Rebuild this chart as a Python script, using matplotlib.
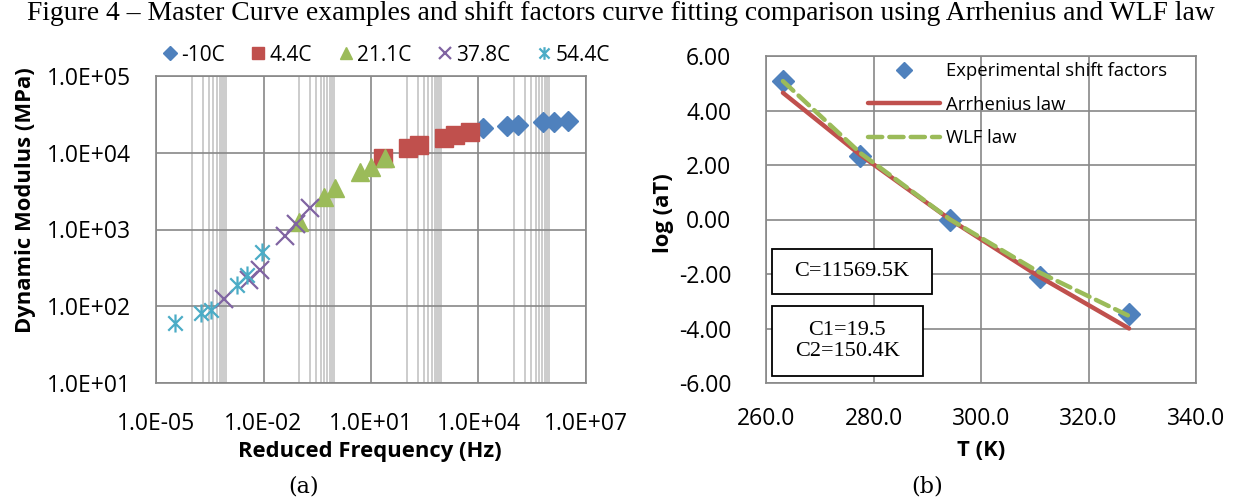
import matplotlib
matplotlib.use("Agg")
import matplotlib.pyplot as plt
from matplotlib.path import Path
from matplotlib.patches import Rectangle
from matplotlib.ticker import FixedLocator, FuncFormatter

# master curve data: reduced frequency (Hz) and dynamic modulus (MPa) per temperature
temps = ["-10C", "4.4C", "21.1C", "37.8C", "54.4C"]
freq_m10 = [1.36e4, 6.2e4, 1.23e5, 6.5e5, 1.29e6, 3.24e6]
mod_m10 = [20800, 22300, 23000, 25400, 25400, 26200]
freq_4 = [21.6, 107, 214, 1070, 2150, 5700]
mod_4 = [8470, 11400, 12600, 15400, 17000, 18800]
freq_21 = [0.1, 0.5, 1.0, 5.0, 10.0, 25.0]
mod_21 = [1250, 2670, 3440, 5660, 6580, 8470]
freq_38 = [8.0e-4, 4.0e-3, 8.0e-3, 4.0e-2, 8.0e-2, 0.2]
mod_38 = [123, 220, 297, 822, 1180, 1890]
freq_54 = [3.5e-5, 1.8e-4, 3.5e-4, 1.8e-3, 3.5e-3, 8.9e-3]
mod_54 = [60, 81, 89, 189, 255, 514]

# shift factors vs temperature (K)
T_k = [263.15, 277.55, 294.25, 310.95, 327.55]
logaT_exp = [5.10, 2.33, 0.0, -2.10, -3.45]
logaT_arr = [4.65, 2.37, 0.0, -2.11, -4.00]
logaT_wlf = [5.08, 2.44, 0.0, -1.95, -3.54]

xticks_a = [1e-5, 1e-2, 1e1, 1e4, 1e7]
yticks_a = [1e1, 1e2, 1e3, 1e4, 1e5]
xticks_b = [260, 280, 300, 320, 340]
yticks_b = [6, 4, 2, 0, -2, -4, -6]

SANS = "Open Sans"
SERIF = "Liberation Serif"
plt.rcParams["font.family"] = SANS

blue = "#4F81BD"
red = "#C0504D"
green = "#9BBB59"
purple = "#8064A2"
cyan = "#4BACC6"
major_c = "#888888"
minor_c = "#C4C4C4"
TICK = 16.5
LAB = 15.8

# excel style star: an X with a vertical bar through it
star = Path([(-1, -1), (1, 1), (-1, 1), (1, -1), (0, -1.25), (0, 1.25)],
            [Path.MOVETO, Path.LINETO, Path.MOVETO, Path.LINETO, Path.MOVETO, Path.LINETO])

fig = plt.figure(figsize=(12.42, 4.99), dpi=100)
W, H = 1242, 499


def px_axes(x0, y0, x1, y1):
    return fig.add_axes([x0 / W, 1 - y1 / H, (x1 - x0) / W, (y1 - y0) / H])


# ---- (a) master curve ----
ax = px_axes(156, 76, 586, 383)
ax.set_xscale("log")
ax.set_yscale("log")
ax.set_xlim(1e-5, 1e7)
ax.set_ylim(1e1, 1e5)

minor = []
for k in [-5, -2, 1, 4]:
    for n in range(1, 10):
        minor.append(10.0 ** k * 10 * n)
ax.xaxis.set_major_locator(FixedLocator(xticks_a))
ax.xaxis.set_minor_locator(FixedLocator(minor))
ax.yaxis.set_major_locator(FixedLocator(yticks_a))
ax.yaxis.set_minor_locator(FixedLocator([]))
fmt = FuncFormatter(lambda v, p: "{:.1E}".format(v))
ax.xaxis.set_major_formatter(fmt)
ax.yaxis.set_major_formatter(fmt)
ax.xaxis.set_minor_formatter(FuncFormatter(lambda v, p: ""))
ax.grid(True, which="major", color=major_c, lw=1.2)
ax.grid(True, which="minor", axis="x", color=minor_c, lw=1.2)
ax.set_axisbelow(True)
ax.tick_params(which="both", length=0, labelsize=TICK)
ax.tick_params(axis="x", pad=21)
ax.tick_params(axis="y", pad=18)
for s in ax.spines.values():
    s.set_color(major_c)
    s.set_linewidth(1.2)

ax.plot(freq_m10, mod_m10, ls="none", marker="D", ms=10, color=blue, label=temps[0])
ax.plot(freq_4, mod_4, ls="none", marker="s", ms=12.5, color=red, label=temps[1])
ax.plot(freq_21, mod_21, ls="none", marker="^", ms=13, color=green, label=temps[2])
ax.plot(freq_38, mod_38, ls="none", marker="x", ms=12.5, mew=1.6, color=purple, label=temps[3])
ax.plot(freq_54, mod_54, ls="none", marker=star, ms=13, mew=1.6, color=cyan,
        fillstyle="none", label=temps[4])

ax.legend(loc="lower center", bbox_to_anchor=(0.5 + 14 / 430, 1.0), ncol=5, frameon=False,
          fontsize=15, handletextpad=0.1, columnspacing=1.15, handlelength=0.9,
          markerscale=0.7, borderaxespad=0.1)

ax.set_xlabel("Reduced Frequency (Hz)", fontsize=LAB, fontweight="bold")
ax.xaxis.set_label_coords(0.498, -0.19)
ax.set_ylabel("Dynamic Modulus (MPa)", fontsize=LAB, fontweight="bold")
ax.yaxis.set_label_coords((36 - 156) / 430, (383 - 200) / 307)

# ---- (b) shift factors ----
bx = px_axes(766, 56, 1196, 383)
bx.set_xlim(260, 340)
bx.set_ylim(-6, 6)
bx.set_xticks(xticks_b)
bx.set_yticks(yticks_b)
bx.xaxis.set_major_formatter(FuncFormatter(lambda v, p: "{:.1f}".format(v)))
bx.yaxis.set_major_formatter(FuncFormatter(lambda v, p: "{:.2f}".format(v)))
bx.grid(True, color=major_c, lw=1.2)
bx.set_axisbelow(True)
bx.tick_params(length=0, labelsize=TICK)
bx.tick_params(axis="x", pad=17)
bx.tick_params(axis="y", pad=25)
for s in bx.spines.values():
    s.set_color(major_c)
    s.set_linewidth(1.2)

bx.plot(T_k, logaT_exp, ls="none", marker="D", ms=11, color=blue,
        label="Experimental shift factors")
bx.plot(T_k, logaT_arr, color=red, lw=3.2, solid_capstyle="round",
        label="Arrhenius law")
bx.plot(T_k, logaT_wlf, color=green, lw=3.2, dashes=(3.2, 1.6), dash_capstyle="round",
        label="WLF law")

bx.legend(loc="upper left", bbox_to_anchor=((857 - 766) / 430, 1.0 + 5 / 327), frameon=False,
          fontsize=13.3, handlelength=3.9, handletextpad=0.3, labelspacing=0.85,
          markerscale=0.7, borderaxespad=0.2)

bx.set_xlabel("T (K)", fontsize=LAB, fontweight="bold")
bx.xaxis.set_label_coords(0.5, -0.174)
bx.set_ylabel("log (aT)", fontsize=LAB, fontweight="bold")
bx.yaxis.set_label_coords((674 - 766) / 430, (383 - 213) / 327)

# fitted constants
bx.add_patch(Rectangle((0.014, 0.272), 0.372, 0.137, transform=bx.transAxes,
                       fill=True, facecolor="white", edgecolor="black", lw=1.3, zorder=5))
bx.text(0.2, 0.34, "C=11569.5K", transform=bx.transAxes, ha="center", va="center",
        fontsize=16, family=SERIF, zorder=6)
bx.add_patch(Rectangle((0.014, 0.021), 0.35, 0.214, transform=bx.transAxes,
                       fill=True, facecolor="white", edgecolor="black", lw=1.3, zorder=5))
bx.text(0.189, 0.128, "C1=19.5\nC2=150.4K", transform=bx.transAxes, ha="center",
        va="center", fontsize=16, family=SERIF, linespacing=1.1, zorder=6)

fig.text(0.5, 1 - 13 / H, "Figure 4 \u2013 Master Curve examples and shift factors curve fitting "
         "comparison using Arrhenius and WLF law", ha="center", va="center",
         fontsize=19.9, family=SERIF)
fig.text(304 / W, 1 - 486 / H, "(a)", ha="center", va="center", fontsize=16, family="DejaVu Serif")
fig.text(927 / W, 1 - 486 / H, "(b)", ha="center", va="center", fontsize=16, family="DejaVu Serif")

fig.savefig("out.png", dpi=100, facecolor="white")
